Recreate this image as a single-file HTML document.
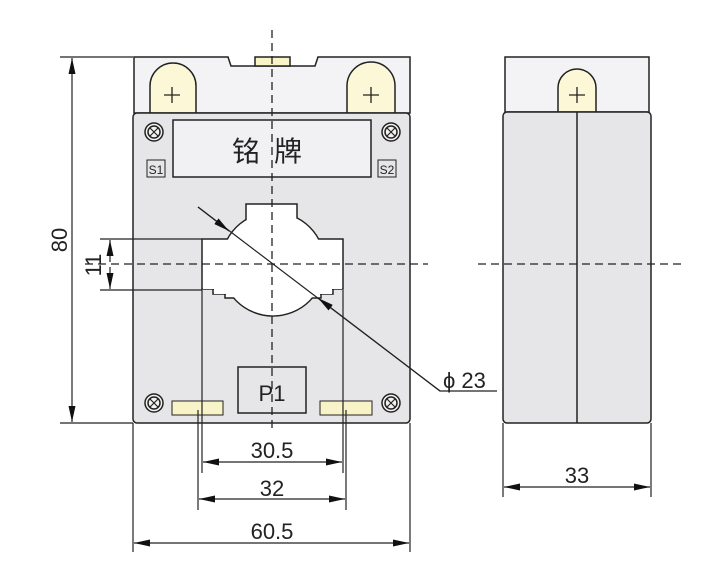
<!DOCTYPE html>
<html><head><meta charset="utf-8"><style>body{margin:0;background:#fff}svg{display:block}text{font-family:"Liberation Sans","Noto Sans CJK SC",sans-serif;fill:#222}</style></head><body>
<svg width="726" height="580" viewBox="0 0 726 580" xmlns="http://www.w3.org/2000/svg">
<defs>
<marker id="a" viewBox="0 0 16 7" refX="16" refY="3.5" markerWidth="16" markerHeight="7" orient="auto-start-reverse" markerUnits="userSpaceOnUse"><path d="M0,0L16,3.5L0,7z" fill="#111"/></marker>
</defs>
<g stroke="#222" stroke-width="1.5">
<path d="M134,57H228L231,66H315L318,57H410V113H134Z" fill="#f3f2f4"/>
<rect x="255" y="57" width="35" height="9" fill="#f8f4c8"/>
<path d="M150,113V86A23,23 0 0 1 196,86V113Z" fill="#fcf7d6"/>
<path d="M347,113V86A24,24 0 0 1 395,86V113Z" fill="#fcf7d6"/>
<rect x="133" y="113" width="277" height="310" rx="4" fill="#e6e6e8"/>
<rect x="173" y="120" width="198" height="57" fill="#f1f1f3"/>
<rect x="147" y="160" width="18" height="17" fill="#e6e6e8" stroke-width="1"/>
<rect x="378" y="160" width="18" height="17" fill="#e6e6e8" stroke-width="1"/>
<g fill="#fff">
<circle cx="273" cy="264" r="52"/>
<rect x="246" y="204" width="51" height="30"/>
<rect x="202" y="239" width="141" height="50"/>
<rect x="213" y="289" width="120" height="5"/>
<rect x="225" y="294" width="96" height="4"/>
</g>
</g>
<g fill="#fff">
<circle cx="273" cy="264" r="51.2"/>
<rect x="247" y="205" width="49" height="30"/>
<rect x="203" y="240" width="139" height="49"/>
<rect x="214" y="288" width="118" height="6"/>
<rect x="226" y="293" width="94" height="4"/>
</g>
<g stroke="#222" stroke-width="1.5" fill="none">
<rect x="238" y="367" width="68" height="46" fill="#e6e6e8"/>
<rect x="172" y="401" width="51" height="14" fill="#f8f4c8" stroke-width="1"/>
<rect x="320" y="401" width="52" height="14" fill="#f8f4c8" stroke-width="1"/>
<g fill="#f3f2f0">
<circle cx="154" cy="132" r="9"/><circle cx="391" cy="132" r="9"/>
<circle cx="154" cy="403" r="9"/><circle cx="391" cy="403" r="9"/>
</g>
<circle cx="154" cy="132" r="6"/><circle cx="391" cy="132" r="6"/>
<circle cx="154" cy="403" r="6"/><circle cx="391" cy="403" r="6"/>
<path d="M150,128l8,8m0,-8l-8,8M387,128l8,8m0,-8l-8,8M150,399l8,8m0,-8l-8,8M387,399l8,8m0,-8l-8,8" stroke-width="1.2"/>
<!-- side view -->
<rect x="505" y="57" width="144" height="55" fill="#f3f2f4"/>
<path d="M558,112V88A19,19 0 0 1 596,88V112Z" fill="#fcf7d6"/>
<rect x="503" y="112" width="148" height="311" rx="4" fill="#e6e6e8"/>
<path d="M577,112V423"/>
<path d="M164,95h16M172,87v16M363,95h16M371,87v16M569,95h16M577,87v16" stroke-width="1.3"/>
<path d="M272,30V432M85,264H428M478,264H682" stroke-dasharray="8,5" stroke-width="1.3"/>
<g stroke-width="1.2">
<path d="M60,57H133M60,423H133M100,239H202M100,290H202"/>
<path d="M202,290V473M343,290V473M198,410V510M346,410V510"/>
<path d="M133,423V552M410,423V552M503,423V497M651,423V497"/>
</g>
<g stroke-width="1.2" marker-start="url(#a)" marker-end="url(#a)">
<path d="M72,58V422"/>
<path d="M203,462H342"/>
<path d="M199,499H345"/>
<path d="M134,543H409"/>
<path d="M504,487H650"/>
</g>
<path d="M110,240V262" stroke-width="1.2" marker-start="url(#a)"/>
<path d="M110,289V267" stroke-width="1.2" marker-start="url(#a)"/>
<path d="M198,207L440,391H497" stroke-width="1.2"/>
<path d="M198,207L229,231" stroke-width="1.2" marker-end="url(#a)"/>
<path d="M440,391L318,298" stroke-width="1.2" marker-end="url(#a)"/>
</g>
<text x="274" y="161" font-size="28" text-anchor="middle" letter-spacing="14">铭牌</text>
<text x="156" y="174" font-size="12" text-anchor="middle">S1</text>
<text x="387" y="174" font-size="12" text-anchor="middle">S2</text>
<text x="272" y="401" font-size="22" text-anchor="middle">P1</text>
<text x="272" y="458" font-size="22" text-anchor="middle">30.5</text>
<text x="272" y="496" font-size="22" text-anchor="middle">32</text>
<text x="272" y="539" font-size="22" text-anchor="middle">60.5</text>
<text x="577" y="483" font-size="22" text-anchor="middle">33</text>
<text x="443" y="388" font-size="22">ϕ 23</text>
<text transform="translate(67,240) rotate(-90)" font-size="22" text-anchor="middle">80</text>
<text transform="translate(101,265) rotate(-90)" font-size="22" text-anchor="middle">11</text>
</svg>
</body></html>
